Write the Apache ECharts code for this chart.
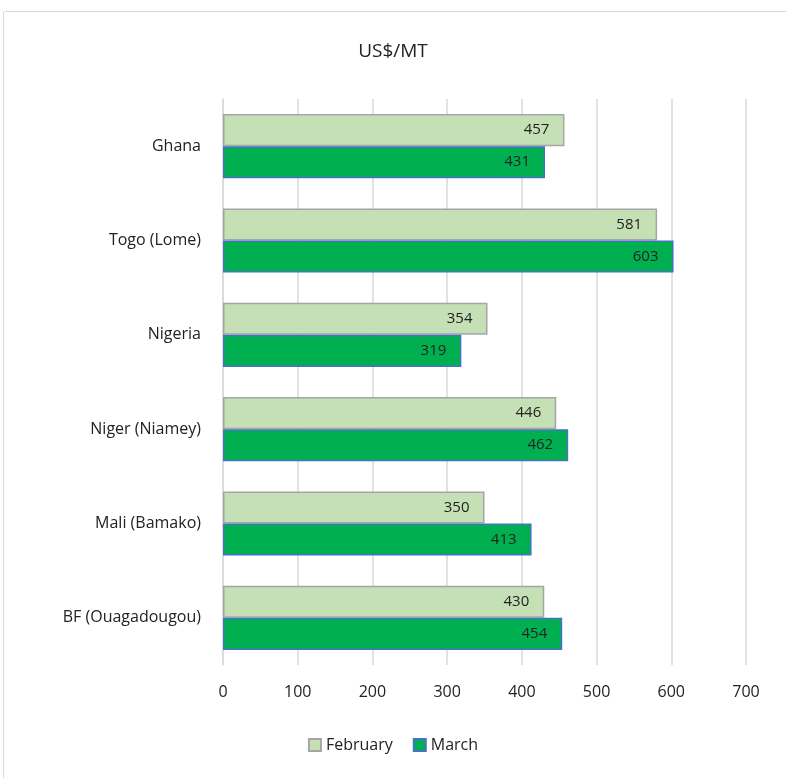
<!DOCTYPE html>
<html><head><meta charset="utf-8">
<script src="https://cdn.jsdelivr.net/npm/echarts@6/dist/echarts.min.js"></script>
<style>
html,body{margin:0;padding:0;background:#fff;}
#frame{position:absolute;left:3px;top:11px;width:800px;height:800px;border:1.5px solid #d9d9d9;border-radius:2px;box-sizing:border-box;}
#chart{position:absolute;left:0;top:0;width:786px;height:778px;}
</style></head>
<body>
<div id="frame"></div>
<div id="chart"></div>
<script>
const categories = ['Ghana','Togo (Lome)','Nigeria','Niger (Niamey)','Mali (Bamako)','BF (Ouagadougou)'];
const february = [457,581,354,446,350,430];
const march = [431,603,319,462,413,454];
const xTicks = [0,700,100];

const chart = echarts.init(document.getElementById('chart'), null, {renderer:'canvas'});
const font = 'Open Sans, Lato, sans-serif';
chart.setOption({
  animation:false,
  backgroundColor:'transparent',
  title:{text:'US$/MT',left:'center',top:37,textStyle:{fontFamily:font,fontSize:19,fontWeight:'normal',color:'#222'}},
  legend:{bottom:20,left:'center',itemWidth:12,itemHeight:12,itemGap:20,
    textStyle:{fontFamily:font,fontSize:16,color:'#222'},
    data:[{name:'February',icon:'rect'},{name:'March',icon:'rect'}]},
  grid:{left:223,right:40,top:99,bottom:113,containLabel:false},
  xAxis:{type:'value',min:xTicks[0],max:xTicks[1],interval:xTicks[2],
    axisLine:{show:false},axisTick:{show:false},
    axisLabel:{fontFamily:font,fontSize:16,color:'#222',margin:19},
    splitLine:{lineStyle:{color:'#d9d9d9',width:1.5}}},
  yAxis:{type:'category',data:categories,inverse:true,
    axisLine:{show:true,lineStyle:{color:'#d9d9d9',width:1.5}},axisTick:{show:false},
    axisLabel:{fontFamily:font,fontSize:16,color:'#222',margin:22}},
  series:[
    {name:'February',type:'bar',data:february,barGap:'0%',barCategoryGap:'32%',
      itemStyle:{color:'#c5e0b4',borderColor:'#a5a5a5',borderWidth:1.5},
      label:{show:true,position:'insideRight',distance:15,fontFamily:font,fontSize:15,color:'#222'}},
    {name:'March',type:'bar',data:march,
      itemStyle:{color:'#00b050',borderColor:'#4472c4',borderWidth:1.5},
      label:{show:true,position:'insideRight',distance:15,fontFamily:font,fontSize:15,color:'#222'}}
  ]
});
</script>
</body></html>
